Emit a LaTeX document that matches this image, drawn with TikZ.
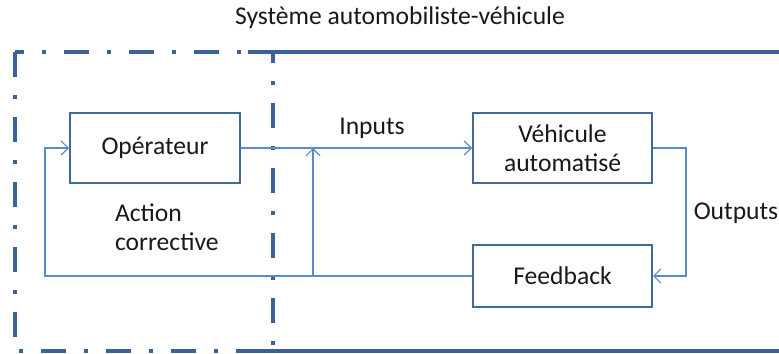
\documentclass[tikz,border=0pt]{standalone}
\usepackage{fontspec}
\setmainfont{Carlito}
\usetikzlibrary{arrows.meta}
\definecolor{frameblue}{HTML}{3B6296}
\definecolor{boxblue}{HTML}{3E6A9E}
\definecolor{lineblue}{HTML}{5B8ACB}
\tikzset{
  bloc/.style={draw=boxblue, line width=1pt, minimum width=89.5pt, minimum height=35pt, align=center, inner sep=0pt},
  lien/.style={draw=lineblue, line width=0.6pt},
  fleche/.style={lien, -{Straight Barb[length=3.5pt, width=7pt]}},
  texte/.style={font=\fontsize{12.8}{14.5}\selectfont, text=black!90}
}
\begin{document}
\begin{tikzpicture}[x=0.5pt, y=-0.5pt, every node/.style={texte}]
\useasboundingbox (0,0) rectangle (779,353);
% system frame
\draw[frameblue, line width=2.3pt] (248,52) -- (779,52);
\draw[frameblue, line width=2.3pt] (243,351) -- (779,351);
\draw[frameblue, line width=2.3pt, dash pattern=on 12.5pt off 9pt on 2pt off 9pt] (15,52) rectangle (273,351);
\node at (400,18) {Système automobiliste-véhicule};
% blocks
\node[bloc, minimum width=85pt] (oper) at (155,148) {Opérateur};
\node[bloc] (vehic) at (562.5,148) {Véhicule\\automatisé};
\node[bloc, minimum height=31pt] (feed) at (562.5,276) {Feedback};
\coordinate (sortie) at (686,148);
\coordinate (retour) at (45,276);
\coordinate (noeud) at (313,276);
\coordinate (entree) at (313,148);
% connectors
\draw[fleche] (oper.east) -- (vehic.west);
\draw[fleche] (vehic.east) -- (sortie) |- (feed.east);
\draw[fleche] (feed.west) -- (retour) |- (oper.west);
\draw[fleche] (noeud) -- (entree);
\node at (372,128) {Inputs};
\node at (736,213) {Outputs};
\node[anchor=west, align=left] at (108,227) {Action\\corrective};
\end{tikzpicture}
\end{document}
